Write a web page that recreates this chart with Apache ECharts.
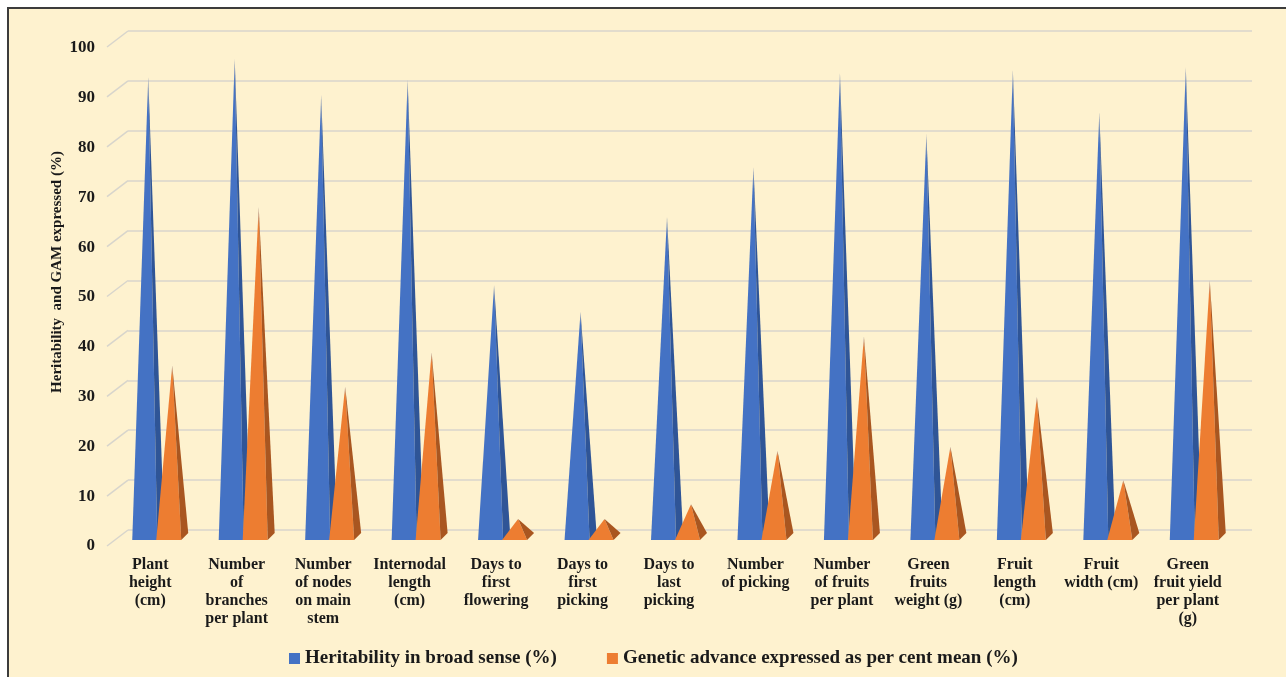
<!DOCTYPE html>
<html>
<head>
<meta charset="utf-8">
<script src="https://cdn.jsdelivr.net/npm/echarts@6/dist/echarts.min.js"></script>
<style>
    html, body { margin: 0; padding: 0; background: #fff; overflow: hidden; }
    #frame {
        position: absolute; left: 7px; top: 7px; width: 1300px; height: 700px;
        background: #fef2cf; border: 2px solid #3c3c3c;
    }
    #main { position: absolute; left: 0; top: 0; width: 1286px; height: 677px; }
</style>
</head>
<body>
<div id="frame"></div>
<div id="main"></div>
<script>
'use strict';

const categories = [
    'Plant\nheight\n(cm)',
    'Number\nof\nbranches\nper plant',
    'Number\nof nodes\non main\nstem',
    'Internodal\nlength\n(cm)',
    'Days to\nfirst\nflowering',
    'Days to\nfirst\npicking',
    'Days to\nlast\npicking',
    'Number\nof picking',
    'Number\nof fruits\nper plant',
    'Green\nfruits\nweight (g)',
    'Fruit\nlength\n(cm)',
    'Fruit\nwidth (cm)',
    'Green\nfruit yield\nper plant\n(g)'
];

const heritability = [92.4, 96.1, 88.8, 91.8, 50.6, 45.2, 64.3, 74.3, 93.2, 80.9, 93.8, 85.3, 94.4];
const gam = [34.5, 66.3, 30.2, 37.1, 3.6, 3.6, 6.6, 17.3, 40.3, 18.1, 28.2, 11.4, 51.6];
const yTicks = [0, 10, 20, 30, 40, 50, 60, 70, 80, 90, 100];

const FONT = '"Liberation Serif", "Times New Roman", serif';

// pyramid drawn on the middle plane: light front face + darker right face
const pyramid = (shift, front, side) => (params, api) => {
    const top = api.coord([api.value(0), api.value(1)]);
    const base = api.coord([api.value(0), 0]);
    const ax = top[0] + shift;
    const ay = top[1];
    const by = base[1];
    return {
        type: 'group',
        children: [{
                type: 'polygon',
                shape: { points: [[ax - 16, by + 3], [ax + 9, by + 3], [ax, ay]] },
                style: {
                    fill: {
                        type: 'linear', x: 0, y: 0, x2: 0, y2: 1,
                        colorStops: [
                            { offset: 0, color: '#9aa3b8' },
                            { offset: 0.06, color: front },
                            { offset: 1, color: front }
                        ]
                    }
                }
            },
            {
                type: 'polygon',
                shape: { points: [[ax + 9, by + 3], [ax + 16, by - 4], [ax, ay]] },
                style: { fill: side }
            }
        ]
    };
};

const chart = echarts.init(document.getElementById('main'));

const option = {
    animation: false,
    backgroundColor: 'transparent',
    textStyle: { fontFamily: FONT },
    grid: [
        // front plane: labels
        { left: 107, right: 55, top: 48, height: 498 },
        // back wall: gridlines
        { left: 128, right: 34, top: 31, height: 499 },
        // middle plane: pyramids
        { left: 117, right: 45, top: 39, height: 498 }
    ],
    xAxis: [{
            gridIndex: 0,
            type: 'category',
            data: categories,
            axisLine: { show: false },
            axisTick: { show: false },
            axisLabel: {
                interval: 0,
                margin: 10,
                color: '#1a1a1a',
                fontFamily: FONT,
                fontWeight: 'bold',
                fontSize: 16,
                lineHeight: 18
            }
        },
        {
            gridIndex: 1,
            type: 'category',
            data: categories,
            show: false
        },
        {
            gridIndex: 2,
            type: 'category',
            data: categories,
            show: false
        }
    ],
    yAxis: [{
            gridIndex: 0,
            type: 'value',
            min: 0,
            max: 100,
            interval: 10,
            axisLine: { show: false },
            axisTick: { show: false },
            splitLine: { show: false },
            axisLabel: {
                margin: 12,
                color: '#1a1a1a',
                fontFamily: FONT,
                fontWeight: 'bold',
                fontSize: 17
            }
        },
        {
            gridIndex: 1,
            type: 'value',
            min: 0,
            max: 100,
            interval: 10,
            axisLine: { show: false },
            axisTick: { show: false },
            axisLabel: { show: false },
            splitLine: { lineStyle: { color: '#d8d5cc', width: 1.5 } }
        },
        {
            gridIndex: 2,
            type: 'value',
            min: 0,
            max: 100,
            show: false
        }
    ],
    legend: {
        data: ['Heritability in broad sense (%)', 'Genetic advance expressed as per cent mean (%)'],
        left: 284,
        top: 644,
        icon: 'rect',
        itemWidth: 11,
        itemHeight: 11,
        itemGap: 50,
        textStyle: {
            fontFamily: FONT,
            fontWeight: 'bold',
            fontSize: 19,
            color: '#1a1a1a'
        }
    },
    graphic: [{
        type: 'text',
        x: 57,
        y: 272,
        rotation: Math.PI / 2,
        style: {
            text: 'Heritability  and GAM expressed (%)',
            fontFamily: FONT,
            fontWeight: 'bold',
            fontSize: 15,
            fill: '#1a1a1a',
            textAlign: 'center',
            textVerticalAlign: 'middle'
        }
    }],
    series: [{
            // short diagonal joints of the gridlines on the left side wall
            type: 'custom',
            xAxisIndex: 1,
            yAxisIndex: 1,
            silent: true,
            clip: false,
            data: yTicks.map(v => [0, v]),
            renderItem: (params, api) => {
                const p = api.coord([0, api.value(1)]);
                const left = p[0] - api.size([1, 0])[0] / 2;
                return {
                    type: 'line',
                    shape: { x1: left - 21, y1: p[1] + 16, x2: left, y2: p[1] },
                    style: { stroke: '#d8d5cc', lineWidth: 1.5 }
                };
            }
        },
        {
            name: 'Heritability in broad sense (%)',
            type: 'custom',
            xAxisIndex: 2,
            yAxisIndex: 2,
            clip: false,
            itemStyle: { color: '#4472c4' },
            data: heritability.map((v, i) => [i, v]),
            renderItem: pyramid(-12, '#4472c4', '#2f5597')
        },
        {
            name: 'Genetic advance expressed as per cent mean (%)',
            type: 'custom',
            xAxisIndex: 2,
            yAxisIndex: 2,
            clip: false,
            itemStyle: { color: '#ed7d31' },
            data: gam.map((v, i) => [i, v]),
            renderItem: pyramid(12, '#ed7d31', '#a95620')
        }
    ]
};

chart.setOption(option);
</script>
</body>
</html>
